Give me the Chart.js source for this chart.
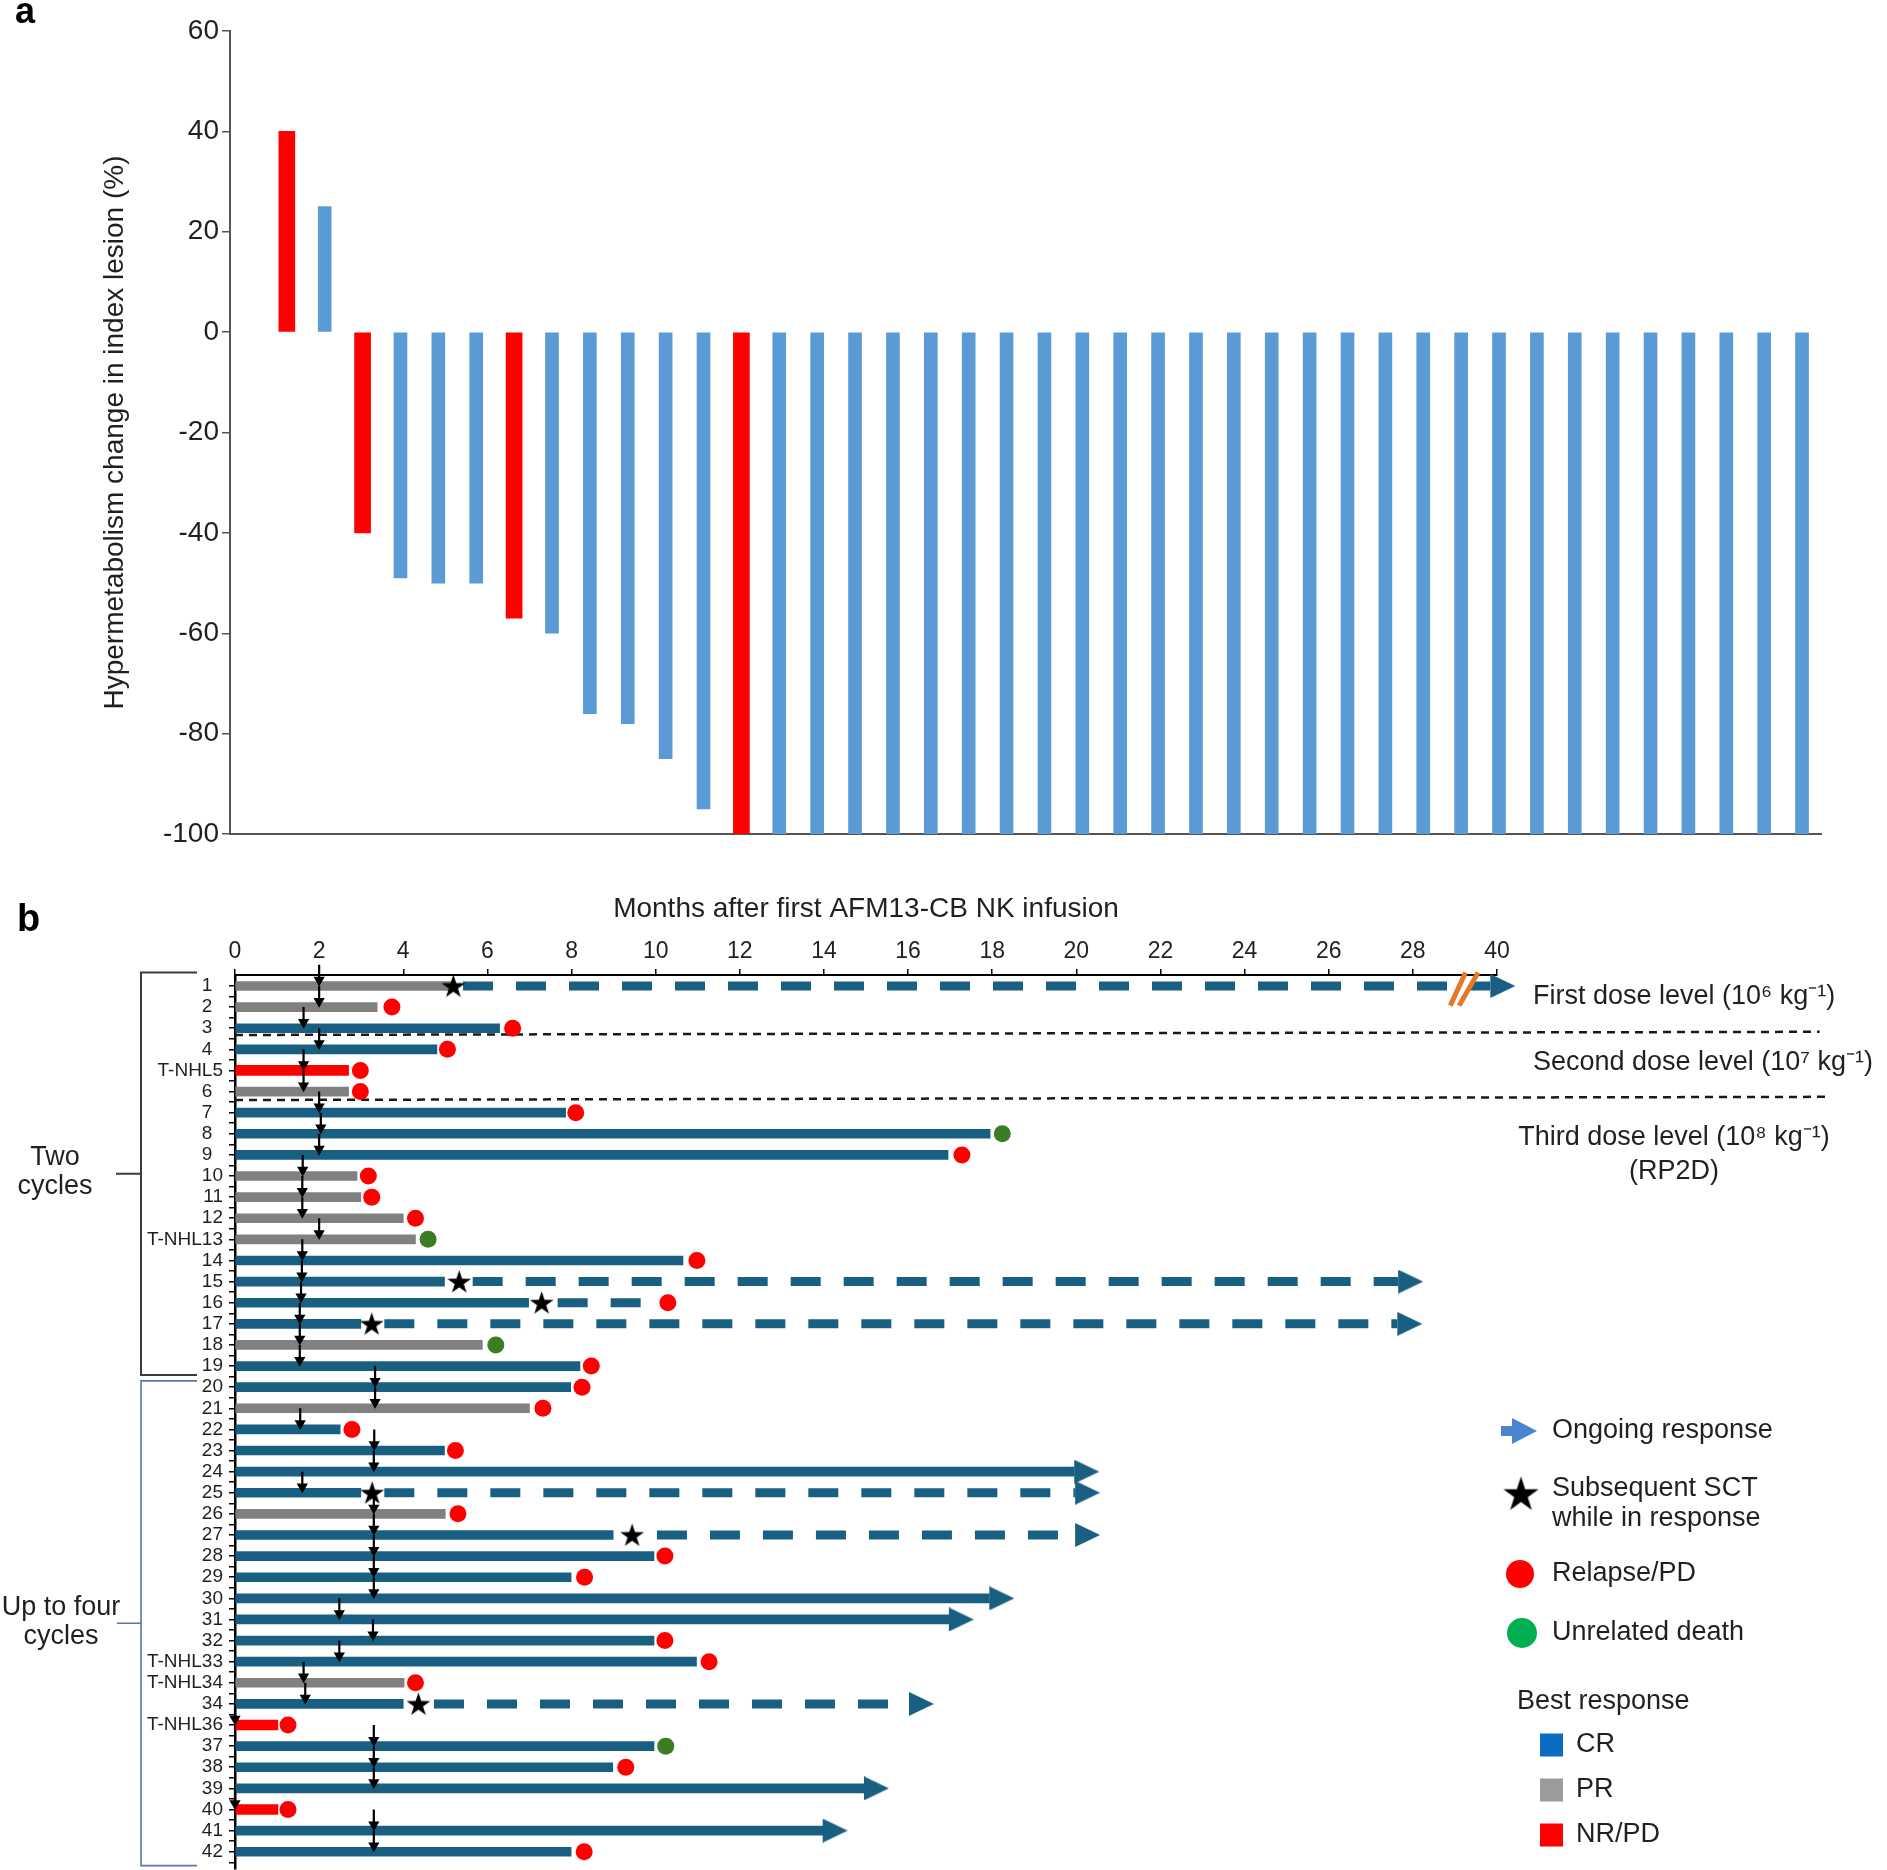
<!DOCTYPE html>
<html>
<head>
<meta charset="utf-8">
<script src="https://cdn.jsdelivr.net/npm/chart.js@4.4.1/dist/chart.umd.min.js"></script>
<style>
  html, body { margin: 0; padding: 0; background: #fff; overflow: hidden; }
  #wrap { position: relative; width: 1887px; height: 1870px; overflow: hidden; }
  #chartA { position: absolute; left: 0; top: 0; }
  #chartB { position: absolute; left: 0; top: 880px; }
</style>
</head>
<body>
<div id="wrap">
  <canvas id="chartA" width="1887" height="880"></canvas>
  <canvas id="chartB" width="1887" height="990"></canvas>
</div>
<script>
// ---------- panel a: waterfall of hypermetabolism change ----------
var lesionSlots = ['1', '2', '3', '4', '5', '6', '7', '8', '9', '10', '11', '12', '13', '14',
	'15', '16', '17', '18', '19', '20', '21', '22', '23', '24', '25', '26', '27', '28',
	'29', '30', '31', '32', '33', '34', '35', '36', '37', '38', '39', '40', '41', '42'];
var hypermetabolismChange = [null, 40, 25, -40, -49, -50, -50, -57, -60, -76, -78, -85, -95,
	-100, -100, -100, -100, -100, -100, -100, -100, -100, -100, -100, -100, -100, -100,
	-100, -100, -100, -100, -100, -100, -100, -100, -100, -100, -100, -100, -100, -100, -100];
// 'PD' = no response / progression (red), 'R' = responder (blue)
var lesionGroup = [null, 'PD', 'R', 'PD', 'R', 'R', 'R', 'PD', 'R', 'R', 'R', 'R', 'R',
	'PD', 'R', 'R', 'R', 'R', 'R', 'R', 'R', 'R', 'R', 'R', 'R', 'R', 'R',
	'R', 'R', 'R', 'R', 'R', 'R', 'R', 'R', 'R', 'R', 'R', 'R', 'R', 'R', 'R'];
var changeTicks = [60, 40, 20, 0, -20, -40, -60, -80, -100];

// ---------- panel b: swimmer plot ----------
var rowLabels = ['1', '2', '3', '4', 'T-NHL5', '6', '7', '8', '9', '10', '11', '12', 'T-NHL13',
	'14', '15', '16', '17', '18', '19', '20', '21', '22', '23', '24', '25', '26', '27', '28',
	'29', '30', '31', '32', 'T-NHL33', 'T-NHL34', '34', 'T-NHL36', '37', '38', '39', '40', '41', '42'];
var bestResponse = ['PR', 'PR', 'CR', 'CR', 'NR', 'PR', 'CR', 'CR', 'CR', 'PR', 'PR', 'PR', 'PR',
	'CR', 'CR', 'CR', 'CR', 'PR', 'CR', 'CR', 'PR', 'CR', 'CR', 'CR', 'CR', 'PR', 'CR', 'CR',
	'CR', 'CR', 'CR', 'CR', 'CR', 'PR', 'CR', 'NR', 'CR', 'CR', 'CR', 'NR', 'CR', 'CR'];
var barEnd = [5.2, 3.38, 6.29, 4.8, 2.7, 2.7, 7.86, 17.95, 16.95, 2.9, 2.99, 4.0, 4.29,
	10.65, 4.98, 6.98, 2.99, 5.88, 8.2, 7.98, 7.0, 2.5, 4.98, 19.95, 2.99, 5.0, 8.99, 9.96,
	7.99, 17.93, 16.97, 9.96, 10.97, 4.02, 4.0, 1.02, 9.96, 8.98, 14.95, 1.02, 13.97, 7.99];
var cycleMonth = [2.0, 2.0, 1.63, 2.0, 1.63, 1.63, 2.0, 2.04, 2.0, 1.61, 1.6, 1.6, 2.0,
	1.6, 1.59, 1.57, 1.54, 1.54, 1.54, 3.33, 3.33, 1.55, 3.31, 3.3, 1.6, 3.3, 3.3, 3.3,
	3.3, 3.3, 2.48, 3.28, 2.48, 1.63, 1.67, 0, 3.3, 3.3, 3.3, 0, 3.3, 3.3];
var relapseRow = [2, 3, 4, 5, 6, 7, 9, 10, 11, 12, 14, 16, 19, 20, 21, 22, 23, 26, 28, 29, 32, 33, 34, 36, 38, 40, 42];
var relapseMonth = [3.73, 6.6, 5.05, 2.98, 2.98, 8.1, 17.28, 3.17, 3.25, 4.29, 10.98, 10.29, 8.47,
	8.25, 7.32, 2.78, 5.24, 5.3, 10.22, 8.31, 10.22, 11.27, 4.29, 1.26, 9.29, 1.26, 8.3];
var deathRow = [8, 13, 18, 37];
var deathMonth = [18.24, 4.59, 6.2, 10.24];
var sctRow = [1, 15, 16, 17, 25, 27, 35];
var sctMonth = [5.19, 5.33, 7.29, 3.25, 3.26, 9.44, 4.36];
var postSctStart = [5.42, 5.65, 7.67, 3.55, 3.55, 10.03, 4.73];
var postSctEnd = [29.84, 27.65, 9.96, 27.63, 19.97, 19.97, 16.02];
var ongoingRow = [1, 15, 17, 24, 25, 27, 30, 31, 35, 39, 41];
var ongoingMonth = [29.84, 27.65, 27.63, 19.95, 19.97, 19.97, 17.93, 16.97, 16.02, 14.95, 13.97];
var monthTickLabels = ['0', '2', '4', '6', '8', '10', '12', '14', '16', '18', '20', '22', '24', '26', '28', '40'];
var doseBoundaryRow = [3.32, 6.4];
var doseLevelText = ['First dose level (10\u2076 kg\u207B\u00B9)', 'Second dose level (10\u2077 kg\u207B\u00B9)',
	'Third dose level (10\u2078 kg\u207B\u00B9)', '(RP2D)'];
var axisBreakMonth = 29.2;

var CR_COLOR = '#185F82';
var PR_COLOR = '#808080';
var NR_COLOR = '#FF0000';
var DEATH_COLOR = '#3A7D22';
var TEXT_COLOR = '#231F20';
var FONT = '"Liberation Sans", Arial, Helvetica, sans-serif';

Chart.defaults.font.family = FONT;
Chart.defaults.color = TEXT_COLOR;

function makeStar(outer, inner, color) {
	var s = Math.ceil(outer * 2 + 2);
	var c = document.createElement('canvas');
	c.width = s; c.height = s;
	var g = c.getContext('2d');
	g.fillStyle = color;
	g.beginPath();
	for (var k = 0; k < 10; k++) {
		var r = k % 2 ? inner : outer;
		var a = -Math.PI / 2 + k * Math.PI / 5;
		g.lineTo(s / 2 + r * Math.cos(a), s / 2 + 1 + r * Math.sin(a));
	}
	g.closePath();
	g.fill();
	return c;
}

// arrow head whose base sits at the canvas centre, tip pointing right
function makeArrowHead(len, half, color) {
	var c = document.createElement('canvas');
	c.width = 2 * len; c.height = 2 * half;
	var g = c.getContext('2d');
	g.fillStyle = color;
	g.beginPath();
	g.moveTo(len, 0);
	g.lineTo(2 * len, half);
	g.lineTo(len, 2 * half);
	g.closePath();
	g.fill();
	return c;
}

function toPoints(rows, months) {
	return rows.map(function (r, i) { return { x: months[i], y: r }; });
}

// ---------------- chart a ----------------
var responseBars = hypermetabolismChange.map(function (v, i) { return lesionGroup[i] === 'R' ? v : null; });
var pdBars = hypermetabolismChange.map(function (v, i) { return lesionGroup[i] === 'PD' ? v : null; });

var panelLabelA = {
	id: 'panelLabelA',
	afterDraw: function (chart) {
		var ctx = chart.ctx;
		ctx.save();
		ctx.fillStyle = '#000';
		ctx.font = 'bold 36px ' + FONT;
		ctx.textBaseline = 'alphabetic';
		ctx.fillText('a', 15, 23);
		ctx.restore();
	}
};

new Chart(document.getElementById('chartA'), {
	type: 'bar',
	data: {
		labels: lesionSlots,
		datasets: [
			{ label: 'Responders', data: responseBars, backgroundColor: '#5B9BD5', barThickness: 13, grouped: false, order: 2 },
			{ label: 'NR/PD', data: pdBars, backgroundColor: '#FF0000', barThickness: 16, grouped: false, order: 1 }
		]
	},
	options: {
		responsive: false,
		animation: false,
		events: [],
		layout: { padding: { left: 0, top: 31, right: 66, bottom: 46 } },
		plugins: { legend: { display: false }, tooltip: { enabled: false } },
		scales: {
			x: {
				grid: { display: false },
				ticks: { display: false },
				border: { display: true, color: '#555', width: 2 },
				afterFit: function (s) { s.height = 0; }
			},
			y: {
				min: -100,
				max: 60,
				afterBuildTicks: function (s) { s.ticks = changeTicks.map(function (v) { return { value: v }; }); },
				ticks: {
					font: { size: 28 },
					color: TEXT_COLOR,
					padding: 3,
					callback: function (v) { return String(v); }
				},
				grid: { drawOnChartArea: false, tickLength: 8, color: '#555', lineWidth: 1.5 },
				border: { color: '#555', width: 2 },
				title: {
					display: true,
					text: 'Hypermetabolism change in index lesion (%)',
					font: { size: 28 },
					color: TEXT_COLOR,
					padding: { top: 98, bottom: 0 }
				},
				afterFit: function (s) { s.width = 230; }
			}
		}
	},
	plugins: [panelLabelA]
});

// ---------------- chart b ----------------
function barsFor(code) {
	var pts = [];
	bestResponse.forEach(function (resp, i) {
		if (resp === code) pts.push({ x: [0, barEnd[i]], y: i + 1 });
	});
	return pts;
}

var starImg = makeStar(12.5, 4.8, '#000');
var arrowImg = makeArrowHead(25, 12, CR_COLOR);

var datasetsB = [];
datasetsB.push({ type: 'bar', label: 'CR', indexAxis: 'y', data: barsFor('CR'), backgroundColor: CR_COLOR, barThickness: 9, grouped: false, order: 10 });
datasetsB.push({ type: 'bar', label: 'PR', indexAxis: 'y', data: barsFor('PR'), backgroundColor: PR_COLOR, barThickness: 9, grouped: false, order: 10 });
datasetsB.push({ type: 'bar', label: 'NR/PD', indexAxis: 'y', data: barsFor('NR'), backgroundColor: NR_COLOR, barThickness: 10, grouped: false, order: 10 });

// dose level separators (reach past the broken axis)
var separatorEnd = [37.67, 37.88];
doseBoundaryRow.forEach(function (y, i) {
	datasetsB.push({
		type: 'line', data: [{ x: 0, y: y }, { x: separatorEnd[i], y: y - 0.15 }],
		borderColor: '#1A1A1A', borderWidth: 2.5, borderDash: [8, 6], pointRadius: 0, clip: false, order: 11
	});
});

// response continuing after SCT (dashed)
sctRow.forEach(function (r, i) {
	datasetsB.push({
		type: 'line', data: [{ x: postSctStart[i], y: r }, { x: postSctEnd[i], y: r }],
		borderColor: CR_COLOR, borderWidth: 9, borderDash: [30, 23], borderCapStyle: 'butt',
		pointRadius: 0, clip: false, order: 9
	});
});

// axis break on patient 1
datasetsB.push({
	type: 'line',
	data: [{ x: axisBreakMonth - 0.31, y: 1.93 }, { x: axisBreakMonth + 0.05, y: 0.36 }, { x: null, y: null },
		{ x: axisBreakMonth - 0.1, y: 1.93 }, { x: axisBreakMonth + 0.35, y: 0.36 }],
	borderColor: '#E8772E', borderWidth: 5, pointRadius: 0, spanGaps: false, clip: false, order: 7
});

datasetsB.push({ type: 'scatter', label: 'Ongoing response', data: toPoints(ongoingRow, ongoingMonth),
	pointStyle: arrowImg, pointRadius: 12, clip: false, order: 6 });
datasetsB.push({ type: 'scatter', label: 'Relapse/PD', data: toPoints(relapseRow, relapseMonth),
	pointStyle: 'circle', pointRadius: 8.5, pointBackgroundColor: '#FF0000', pointBorderWidth: 0, clip: false, order: 5 });
datasetsB.push({ type: 'scatter', label: 'Unrelated death', data: toPoints(deathRow, deathMonth),
	pointStyle: 'circle', pointRadius: 8.5, pointBackgroundColor: DEATH_COLOR, pointBorderWidth: 0, clip: false, order: 5 });
datasetsB.push({ type: 'scatter', label: 'Subsequent SCT', data: toPoints(sctRow, sctMonth),
	pointStyle: starImg, pointRadius: 12, clip: false, order: 4 });

// treatment cycle arrows
var shafts = [], heads = [];
cycleMonth.forEach(function (m, i) {
	shafts.push({ x: m, y: i + 1 - 1.0 }, { x: m, y: i + 1 - 0.3 }, { x: null, y: null });
	heads.push({ x: m, y: i + 1 - 0.28 });
});
datasetsB.push({ type: 'line', data: shafts, borderColor: '#000', borderWidth: 2.2, pointRadius: 0, spanGaps: false, clip: false, order: 3 });
datasetsB.push({ type: 'scatter', data: heads, pointStyle: 'triangle', pointRotation: 180, pointRadius: 6.5,
	pointBackgroundColor: '#000', pointBorderWidth: 0, clip: false, order: 2 });

function drawBracket(ctx, x, xEnd, yTop, yBottom, xTick, color, width) {
	ctx.strokeStyle = color;
	ctx.lineWidth = width;
	ctx.beginPath();
	ctx.moveTo(xEnd, yTop); ctx.lineTo(x, yTop); ctx.lineTo(x, yBottom); ctx.lineTo(xEnd, yBottom);
	var yMid = (yTop + yBottom) / 2;
	ctx.moveTo(xTick, yMid); ctx.lineTo(x, yMid);
	ctx.stroke();
}

var annotationsB = {
	id: 'annotationsB',
	afterDraw: function (chart) {
		var ctx = chart.ctx;
		var ys = chart.scales.y;
		ctx.save();
		ctx.fillStyle = '#000';
		ctx.font = 'bold 38px ' + FONT;
		ctx.textAlign = 'left';
		ctx.textBaseline = 'alphabetic';
		ctx.fillText('b', 17, 51);

		// cycle brackets
		drawBracket(ctx, 141, 197, ys.getPixelForValue(0.36), ys.getPixelForValue(19.42), 116, '#3A3A3A', 2);
		drawBracket(ctx, 141, 197, ys.getPixelForValue(19.7), ys.getPixelForValue(42.66), 117, '#5B74A8', 1.6);
		ctx.fillStyle = TEXT_COLOR;
		ctx.font = '27px ' + FONT;
		ctx.textAlign = 'center';
		ctx.fillText('Two', 55, 285);
		ctx.fillText('cycles', 55, 314);
		ctx.fillText('Up to four', 61, 735);
		ctx.fillText('cycles', 61, 764);

		// dose level labels
		ctx.textBaseline = 'middle';
		ctx.textAlign = 'left';
		ctx.fillText(doseLevelText[0], 1533, 117);
		ctx.fillText(doseLevelText[1], 1533, 183);
		ctx.textAlign = 'center';
		ctx.fillText(doseLevelText[2], 1674, 258);
		ctx.fillText(doseLevelText[3], 1674, 292);

		// legend
		ctx.textAlign = 'left';
		ctx.fillStyle = '#4A86CF';
		ctx.fillRect(1501, 546, 13, 10);
		ctx.beginPath();
		ctx.moveTo(1512, 538); ctx.lineTo(1537, 551); ctx.lineTo(1512, 564); ctx.closePath();
		ctx.fill();
		ctx.drawImage(makeStar(18.5, 7.1, '#000'), 1521 - 19.5, 614 - 19.5);
		ctx.fillStyle = '#FF0000';
		ctx.beginPath(); ctx.arc(1520, 694, 14, 0, Math.PI * 2); ctx.fill();
		ctx.fillStyle = '#00B050';
		ctx.beginPath(); ctx.arc(1522, 753, 15, 0, Math.PI * 2); ctx.fill();

		ctx.fillStyle = TEXT_COLOR;
		ctx.fillText('Ongoing response', 1552, 551);
		ctx.fillText('Subsequent SCT', 1552, 609);
		ctx.fillText('while in response', 1552, 639);
		ctx.fillText('Relapse/PD', 1552, 694);
		ctx.fillText('Unrelated death', 1552, 753);
		ctx.fillText('Best response', 1517, 822);

		var squares = [['#0A6DC2', 'CR', 865], ['#9B9B9B', 'PR', 910], ['#FF0000', 'NR/PD', 955]];
		squares.forEach(function (s) {
			ctx.fillStyle = s[0];
			ctx.fillRect(1540, s[2] - 11.5, 23, 23);
			ctx.fillStyle = TEXT_COLOR;
			ctx.fillText(s[1], 1576, s[2]);
		});
		ctx.restore();
	}
};

var chartB = new Chart(document.getElementById('chartB'), {
	type: 'scatter',
	data: { datasets: datasetsB },
	options: {
		responsive: false,
		maintainAspectRatio: false,
		animation: false,
		events: [],
		layout: { padding: { left: 0, top: 0, right: 390, bottom: 1 } },
		plugins: { legend: { display: false }, tooltip: { enabled: false } },
		scales: {
			x: {
				type: 'linear',
				position: 'top',
				min: 0,
				max: 30,
				offset: false,
				ticks: {
					stepSize: 2,
					autoSkip: false,
					maxRotation: 0,
					padding: 4,
					font: { size: 23 },
					color: TEXT_COLOR,
					callback: function (v, i) { return monthTickLabels[i]; }
				},
				grid: { drawOnChartArea: false, tickLength: 6, color: '#000', lineWidth: 1.5, offset: false },
				border: { color: '#000', width: 2 },
				title: {
					display: true,
					text: 'Months after first AFM13-CB NK infusion',
					font: { size: 28 },
					color: TEXT_COLOR,
					padding: { top: 12, bottom: 0 }
				},
				afterFit: function (s) { s.height = 95; }
			},
			y: {
				type: 'linear',
				reverse: true,
				min: 0.48,
				max: 42.8,
				offset: false,
				afterBuildTicks: function (s) {
					var t = [];
					rowLabels.forEach(function (lab, i) { t.push({ value: i + 1 }, { value: i + 1.5 }); });
					s.ticks = t;
				},
				ticks: {
					autoSkip: false,
					padding: 6,
					font: { size: 19 },
					color: TEXT_COLOR,
					callback: function (v) {
						var r = Math.round(v);
						if (Math.abs(v - r) > 1e-6) return '';
						var lab = rowLabels[r - 1];
						return lab.length === 1 ? lab + '\u2007' : lab;
					}
				},
				grid: { drawOnChartArea: false, tickLength: 6, color: '#000', lineWidth: 1.5, offset: false },
				border: { color: '#000', width: 2.5 },
				afterFit: function (s) { s.width = 235; }
			}
		}
	},
	plugins: [annotationsB]
});

// stretch the canvas so the plot area ends at the bottom edge of the figure
var bottomGap = 989 - chartB.chartArea.bottom;
if (Math.abs(bottomGap) > 0.5) {
	chartB.resize(1887, Math.round(990 + bottomGap));
}
</script>
</body>
</html>
